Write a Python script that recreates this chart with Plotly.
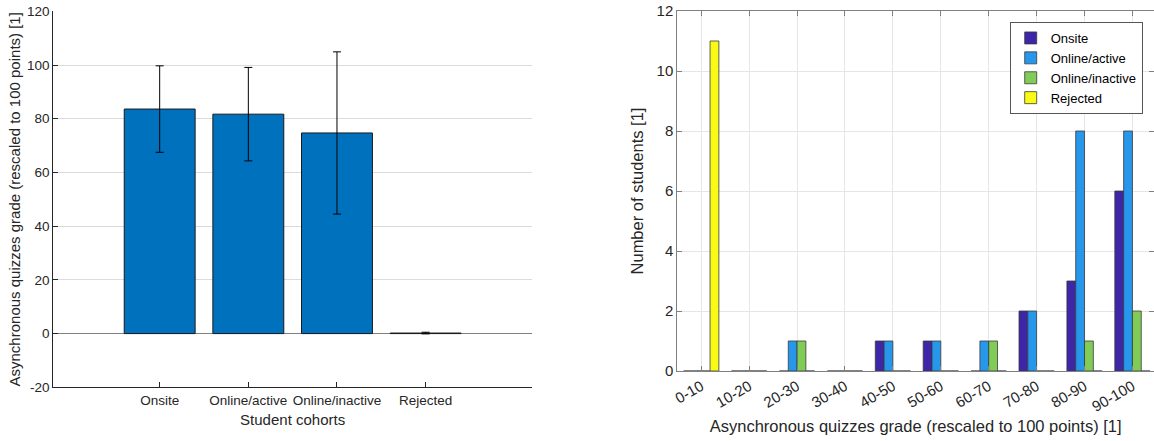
import plotly.graph_objects as go

# ---- data ----
cohorts = ["Onsite", "Online/active", "Online/inactive", "Rejected"]
mean_grade = [83.6, 81.7, 74.7, 0.2]
std_grade = [16.1, 17.4, 30.2, 0.3]
grade_ticks = [-20, 0, 20, 40, 60, 80, 100, 120]
grade_tick_labels = ["-20", "0", "20", "40", "60", "80", "100", "120"]

bins = ["0-10", "10-20", "20-30", "30-40", "40-50", "50-60", "60-70", "70-80", "80-90", "90-100"]
onsite = [0, 0, 0, 0, 1, 1, 0, 2, 3, 6]
online_active = [0, 0, 1, 0, 1, 1, 1, 2, 8, 8]
online_inactive = [0, 0, 1, 0, 0, 0, 1, 0, 1, 2]
rejected = [11, 0, 0, 0, 0, 0, 0, 0, 0, 0]

series_names = ["Onsite", "Online/active", "Online/inactive", "Rejected"]
series_colors = ["#3E26A8", "#2797EB", "#81CC59", "#F9FB15"]

FONT = "Liberation Sans, Arial, sans-serif"
TXT = "#262626"

fig = go.Figure()

cx = list(range(1, len(cohorts) + 1))
fig.add_trace(go.Bar(
    x=cx, y=mean_grade, width=0.8,
    marker=dict(color="#0072BD", line=dict(color="#1a1a1a", width=1)),
    error_y=dict(type="data", array=std_grade, color="#000000", thickness=1, width=4),
    showlegend=False, xaxis="x", yaxis="y",
))

bx = list(range(1, len(bins) + 1))
for name, vals, col in zip(series_names, [onsite, online_active, online_inactive, rejected], series_colors):
    fig.add_trace(go.Bar(
        x=bx, y=vals, name=name,
        marker=dict(color=col, line=dict(color="#3a3a3a", width=0.8)),
        xaxis="x2", yaxis="y2",
    ))

fig.update_layout(
    width=1154, height=441,
    template="none",
    paper_bgcolor="white", plot_bgcolor="white",
    margin=dict(l=0, r=0, t=0, b=0),
    barmode="group", bargap=0.265, bargroupgap=0,
    font=dict(family=FONT, color=TXT, size=13.5),
    xaxis=dict(
        domain=[53.3 / 1154, 532 / 1154], anchor="y",
        range=[-0.2, 5.2], tickmode="array", tickvals=cx, ticktext=cohorts,
        showgrid=False, zeroline=False,
        showline=True, linecolor=TXT, linewidth=1,
        ticks="inside", ticklen=5, tickcolor=TXT,
        tickfont=dict(size=13.5, color=TXT),
        title=dict(text="Student cohorts", font=dict(size=15, color=TXT), standoff=7),
        automargin=False,
    ),
    yaxis=dict(
        domain=[1 - 387.3 / 441, 1 - 11.3 / 441], anchor="x",
        range=[-20, 120], tickmode="array", tickvals=grade_ticks, ticktext=grade_tick_labels,
        showgrid=True, gridcolor="#dcdcdc", gridwidth=1,
        zeroline=True, zerolinecolor="#808080", zerolinewidth=1.2,
        showline=True, linecolor=TXT, linewidth=1,
        ticks="inside", ticklen=5, tickcolor=TXT,
        tickfont=dict(size=13.5, color=TXT),
        title=dict(text="Asynchronous quizzes grade (rescaled to 100 points) [1]",
                   font=dict(size=15, color=TXT), standoff=2),
        automargin=False,
    ),
    xaxis2=dict(
        domain=[677.3 / 1154, 1.0], anchor="y2",
        range=[0.5, 10.45], tickmode="array", tickvals=bx, ticktext=bins,
        tickangle=-30,
        showgrid=True, gridcolor="#e6e6e6", gridwidth=1,
        zeroline=False,
        showline=True, linecolor="#808080", linewidth=1, mirror="ticks",
        ticks="inside", ticklen=5, tickcolor="#808080",
        tickfont=dict(size=15, color=TXT),
        title=dict(text="Asynchronous quizzes grade (rescaled to 100 points) [1]",
                   font=dict(size=16.5, color=TXT), standoff=6),
        automargin=False,
    ),
    yaxis2=dict(
        domain=[1 - 371 / 441, 1 - 11 / 441], anchor="x2",
        range=[0, 12], tickmode="linear", tick0=0, dtick=2,
        showgrid=True, gridcolor="#e6e6e6", gridwidth=1,
        zeroline=False,
        showline=True, linecolor="#808080", linewidth=1, mirror="ticks",
        ticks="inside", ticklen=5, tickcolor="#808080",
        tickfont=dict(size=15, color=TXT),
        title=dict(text="Number of students [1]", font=dict(size=16.5, color=TXT), standoff=8),
        automargin=False,
    ),
    legend=dict(
        x=1142.7 / 1154, xanchor="right", y=1 - 22 / 441, yanchor="top",
        bgcolor="white", bordercolor="#555555", borderwidth=1,
        font=dict(size=13, color="#000000"),
        tracegroupgap=0, itemwidth=30,
    ),
)

fig.write_html(
    "out.html",
    config={"displayModeBar": False},
    post_script="document.body.style.margin='0';document.body.style.overflow='hidden';",
)
